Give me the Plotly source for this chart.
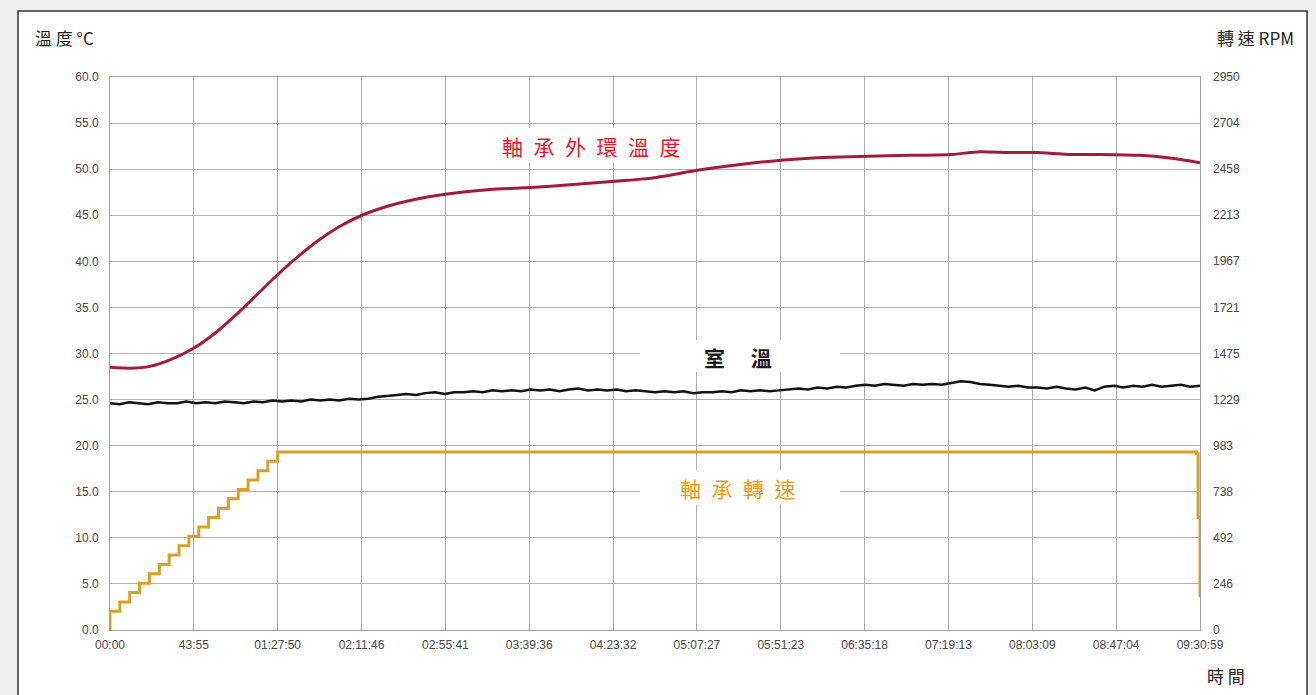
import numpy as np
import plotly.graph_objects as go

# ---- axis tick labels -------------------------------------------------------
time_ticks = ["00:00", "43:55", "01:27:50", "02:11:46", "02:55:41", "03:39:36",
              "04:23:32", "05:07:27", "05:51:23", "06:35:18", "07:19:13",
              "08:03:09", "08:47:04", "09:30:59"]
temp_ticks = [0, 5, 10, 15, 20, 25, 30, 35, 40, 45, 50, 55, 60]
rpm_ticks = [0, 246, 492, 738, 983, 1229, 1475, 1721, 1967, 2213, 2458, 2704, 2950]

# ---- bearing outer-ring temperature (elapsed seconds, deg C) -----------------
ring_time = [0, 629, 1257, 1886, 2640, 3300, 4086, 4715, 5280, 5972, 6600, 7229,
             7920, 8643, 9429, 10592, 11943, 13232, 14457, 15872, 16972, 18512,
             19801, 21184, 22629, 23824, 25144, 26464, 27344, 28287, 29104,
             30172, 31115, 32372, 33315, 34259]
ring_temp = [28.5, 28.4, 28.6, 29.3, 30.6, 32.2, 34.6, 36.7, 38.6, 40.7, 42.4, 43.8,
             45.0, 45.9, 46.6, 47.3, 47.8, 48.0, 48.3, 48.7, 49.0, 49.9,
             50.5, 51.0, 51.3, 51.4, 51.5, 51.6, 51.9, 51.8, 51.8,
             51.6, 51.6, 51.5, 51.2, 50.7]

# ---- room temperature, logged at a fixed interval (deg C) --------------------
LOG_INTERVAL = 300.5
room_temp = [24.6, 24.5, 24.7, 24.6, 24.5, 24.7, 24.6, 24.6, 24.8, 24.6, 24.7, 24.6,
             24.8, 24.7, 24.6, 24.8, 24.7, 24.9, 24.8,
             24.9, 24.8, 25.0, 24.9, 25.0, 24.9, 25.1, 25.0, 25.1,
             25.3, 25.4, 25.5,
             25.6, 25.5, 25.7, 25.8, 25.6, 25.8,
             25.8, 25.9, 25.8, 26.0, 25.9, 26.0, 25.9, 26.1,
             26.0, 26.1, 25.9, 26.1, 26.2, 26.0, 26.1, 26.0, 26.1,
             25.9, 26.0, 25.9, 25.8, 25.9, 25.8, 25.9, 25.7, 25.8,
             25.8, 25.9, 25.8, 26.0, 25.9, 26.0, 25.9, 26.0,
             26.1, 26.2, 26.1, 26.3, 26.2, 26.4, 26.3,
             26.5, 26.6, 26.5, 26.7, 26.6, 26.5, 26.7, 26.6, 26.7, 26.6,
             26.8, 27.0, 26.9,
             26.7, 26.6, 26.5, 26.4, 26.5, 26.3,
             26.3, 26.2, 26.4, 26.2, 26.1, 26.3, 26.0,
             26.4, 26.5, 26.3, 26.5, 26.4, 26.6, 26.4, 26.5, 26.6, 26.4, 26.5]

# ---- bearing speed, stepped ramp then hold (elapsed seconds, RPM) -------------
speed_time = [0, 0, 310, 620, 930, 1240, 1550, 1860, 2170, 2480, 2790, 3100, 3410,
              3720, 4030, 4340, 4650, 4960, 5270, 34150, 34200, 34259]
speed_rpm = [0, 100, 150, 200, 250, 300, 350, 400, 450, 500, 550, 600, 650,
             700, 750, 800, 850, 900, 950, 940, 600, 175]


def to_seconds(label):
    total = 0
    for part in label.split(":"):
        total = total * 60 + int(part)
    return total


tick_seconds = [to_seconds(t) for t in time_ticks]
room_time = [i * LOG_INTERVAL for i in range(len(room_temp))]

W, H = 1316, 695
L, R, T, B = 110, 116, 77, 65
PW, PH = W - L - R, H - T - B


def px(x):
    return (x - L) / PW


def py(y):
    return (H - B - y) / PH


fig = go.Figure()

fig.add_trace(go.Scatter(x=speed_time, y=speed_rpm, yaxis="y2", mode="lines",
                         line=dict(color="#d9a024", width=3, shape="hv"),
                         showlegend=False, hoverinfo="skip"))
fig.add_trace(go.Scatter(x=room_time, y=room_temp, mode="lines",
                         line=dict(color="#111111", width=2.5),
                         showlegend=False, hoverinfo="skip"))
fig.add_trace(go.Scatter(x=ring_time, y=ring_temp, mode="lines",
                         line=dict(color="#a21c3c", width=3, shape="spline", smoothing=0.6),
                         showlegend=False, hoverinfo="skip"))

tick_font = dict(family="Liberation Sans", size=12, color="#474747")
grid_col = "#b0b0b0"

fig.update_layout(
    width=W, height=H,
    margin=dict(l=L, r=R, t=T, b=B),
    paper_bgcolor="#efefef",
    plot_bgcolor="#ffffff",
    xaxis=dict(range=[0, tick_seconds[-1]], tickvals=tick_seconds, ticktext=time_ticks,
               showgrid=True, gridcolor="#a8a8a8", gridwidth=1,
               showline=True, linecolor="#a0a0a0", linewidth=1, mirror=True,
               zeroline=False, ticks="", ticklabelstandoff=4, tickfont=tick_font),
    yaxis=dict(range=[0, 60], tickvals=temp_ticks,
               ticktext=[f"{v:.1f}" for v in temp_ticks],
               showgrid=True, gridcolor=grid_col, gridwidth=1,
               showline=True, linecolor="#a0a0a0", linewidth=1, mirror=True,
               zeroline=False, ticks="", ticklabelstandoff=8, tickfont=tick_font),
    yaxis2=dict(range=[0, 2950], tickvals=rpm_ticks, ticktext=[str(v) for v in rpm_ticks],
                overlaying="y", side="right", showgrid=False, zeroline=False,
                ticks="", ticklabelstandoff=12, tickfont=tick_font),
)

# outer white panel with a dark frame
fig.add_shape(type="rect", xref="paper", yref="paper",
              x0=px(18), x1=px(1307), y0=py(710), y1=py(11),
              fillcolor="#ffffff", line=dict(color="#333333", width=1.5), layer="below")

# white boxes behind the series labels
for x0, x1, y0, y1 in [(497, 687, 128, 163), (640, 840, 340, 372), (640, 840, 470, 505)]:
    fig.add_shape(type="rect", xref="paper", yref="paper",
                  x0=px(x0), x1=px(x1), y0=py(y1), y1=py(y0),
                  fillcolor="#ffffff", line=dict(width=0), layer="above")

cjk = "Noto Sans CJK TC"
sp = "\u2002"
labels = [
    (sp.join("軸承外環溫度"), 591, 146, "#e8142c", "normal"),
    ("室\u2003 溫", 738, 357, "#1a1a1a", "bold"),
    (sp.join("軸承轉速"), 738, 488, "#f09a14", "normal"),
]
for text, x, y, col, weight in labels:
    fig.add_annotation(text=text, xref="paper", yref="paper", x=px(x), y=py(y),
                       xanchor="center", yanchor="middle", showarrow=False,
                       font=dict(family=cjk, size=21, color=col, weight=weight))

titles = [
    ("溫 度 °C", 33, 38, "left"),
    ("轉 速 RPM", 1296, 38, "right"),
    ("時 間", 1205, 675, "left"),
]
for text, x, y, anchor in titles:
    fig.add_annotation(text=text, xref="paper", yref="paper", x=px(x), y=py(y),
                       xanchor=anchor, yanchor="middle", showarrow=False,
                       font=dict(family=cjk, size=17, color="#222222"))

fig.write_html("out.html")
